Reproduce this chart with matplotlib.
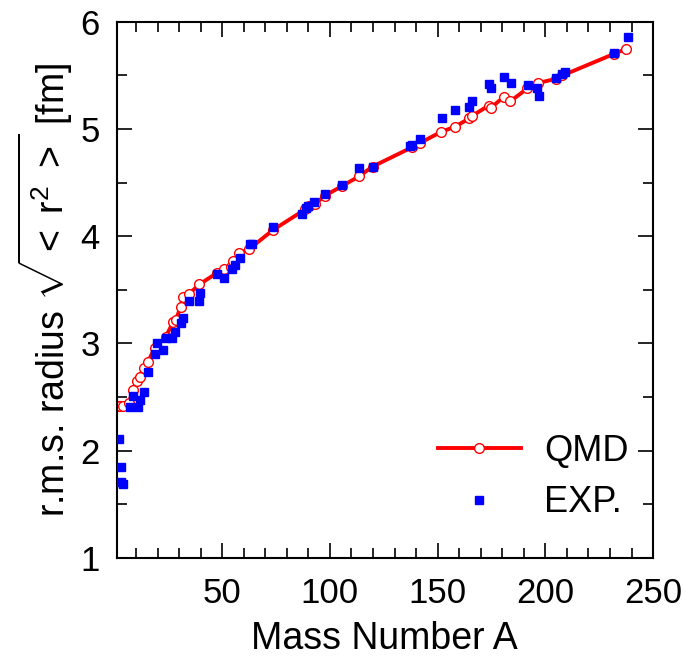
import numpy as np
import matplotlib
matplotlib.use("Agg")
import matplotlib.pyplot as plt
from matplotlib.ticker import MultipleLocator, FixedLocator

plt.rcParams['font.family'] = ['Liberation Sans', 'DejaVu Sans']
plt.rcParams['mathtext.fontset'] = 'custom'
plt.rcParams['mathtext.rm'] = 'Liberation Sans'
plt.rcParams['mathtext.it'] = 'Liberation Sans:italic'

# QMD calculation
qmd_A = [1.5, 2.8, 4.0, 6.6, 8.6, 10.5, 11.7, 13.6, 15.6, 18.7, 23.7, 27.3, 28.5,
         30.7, 31.7, 34.5, 39.4, 47.7, 51.0, 53.9, 55.0, 57.8, 62.5, 73.7, 88.5,
         90.3, 93.0, 97.8, 105.8, 113.6, 119.8, 138.1, 141.8, 151.7, 157.9, 164.7,
         165.8, 173.7, 174.8, 180.7, 183.8, 191.7, 196.7, 205.1, 207.9, 231.7, 237.6]
qmd_r = [2.42, 2.42, 2.42, 2.44, 2.57, 2.65, 2.69, 2.77, 2.83, 2.96, 3.06, 3.20, 3.22,
         3.34, 3.43, 3.46, 3.55, 3.66, 3.69, 3.71, 3.77, 3.84, 3.88, 4.06, 4.25,
         4.28, 4.30, 4.38, 4.47, 4.56, 4.65, 4.83, 4.87, 4.975, 5.02, 5.10,
         5.12, 5.22, 5.20, 5.30, 5.26, 5.38, 5.43, 5.47, 5.50, 5.70, 5.75]

# experimental radii
exp_A = [2, 3, 3, 4, 7.1, 10.9, 8.4, 11.7, 13.8, 15.6, 18.8, 19.9, 22.6, 23.7, 26.5,
         27.9, 30.7, 31.7, 34.7, 39.3, 39.9, 47.7, 50.9, 54.7, 55.8, 58.3, 63.0, 63.7,
         73.7, 87.2, 88.8, 89.9, 92.8, 97.8, 105.8, 113.7, 119.8, 137.2, 138.1, 141.9,
         151.9, 157.9, 164.7, 166.0, 174.0, 175.0, 181.0, 183.9, 192.0, 196.0, 197.0,
         205.0, 207.9, 208.9, 232.0, 238.3]
exp_r = [2.11, 1.85, 1.71, 1.69, 2.41, 2.41, 2.51, 2.47, 2.545, 2.73, 2.90, 3.006, 2.94,
         3.05, 3.05, 3.11, 3.19, 3.24, 3.40, 3.40, 3.47, 3.65, 3.61, 3.69, 3.73, 3.80,
         3.93, 3.925, 4.09, 4.21, 4.26, 4.28, 4.32, 4.39, 4.48, 4.64, 4.65, 4.84, 4.85,
         4.91, 5.106, 5.18, 5.21, 5.26, 5.42, 5.38, 5.49, 5.43, 5.41, 5.38, 5.31,
         5.48, 5.51, 5.53, 5.71, 5.86]

fig = plt.figure(figsize=(6.86, 6.64), dpi=100)
ax = fig.add_axes([0.170, 0.160, 0.782, 0.807])

ax.plot(qmd_A, qmd_r, color='red', lw=2.8, marker='o', ms=7, mfc='white',
        mec='red', mew=1.0, label='QMD', zorder=2)
ax.plot(exp_A, exp_r, ls='none', marker='s', ms=6, color='blue', mec='blue',
        label='EXP.', zorder=3)

ax.set_xlim(1, 250)
ax.set_ylim(1, 6)
ax.xaxis.set_major_locator(FixedLocator([50, 100, 150, 200, 250]))
ax.xaxis.set_minor_locator(MultipleLocator(10))
ax.yaxis.set_major_locator(MultipleLocator(1))
ax.yaxis.set_minor_locator(MultipleLocator(0.5))
ax.tick_params(which='both', direction='in', top=True, right=True, width=1.2,
               labelsize=25)
ax.tick_params(which='major', length=11)
ax.tick_params(which='minor', length=7)
ax.tick_params(axis='x', which='major', pad=14)
ax.tick_params(axis='y', which='major', pad=12)
for s in ax.spines.values():
    s.set_linewidth(1.5)

ax.set_xlabel('Mass Number A', fontsize=27, labelpad=8)
ax.set_ylabel(r'r.m.s. radius $\sqrt{<\ \mathrm{r}^2\ >}$ [fm]', fontsize=27, labelpad=4)

ax.legend(loc='lower right', bbox_to_anchor=(0.955, 0.07), frameon=False,
          fontsize=26, handlelength=2.3, handletextpad=0.65, labelspacing=0.45,
          borderpad=0, borderaxespad=0)

fig.savefig('out.png', dpi=100)
